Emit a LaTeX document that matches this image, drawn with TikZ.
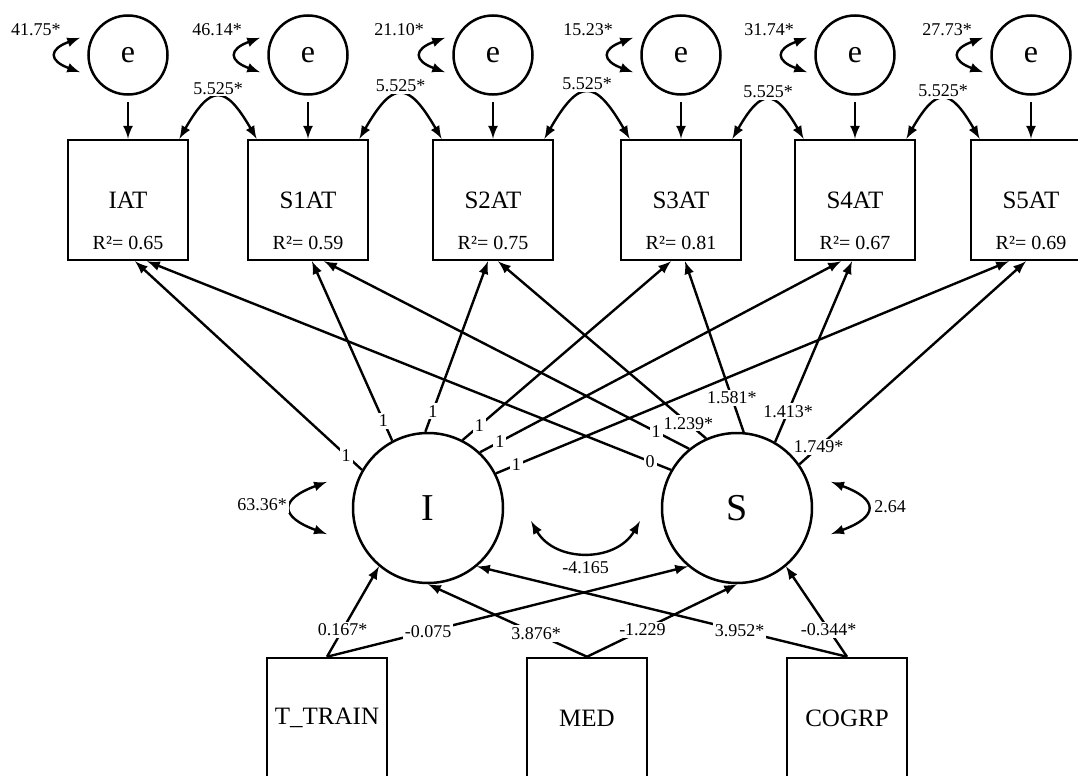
\documentclass[tikz,border=0pt]{standalone}
\usepackage{fontspec}
\setmainfont{Liberation Serif}
\usetikzlibrary{arrows}

\begin{document}
\begin{tikzpicture}[x=0.5pt, y=-0.5pt]
\tikzstyle{err}=[draw, circle, line width=1.25pt, minimum size=39.5pt, inner sep=0pt, font=\fontsize{16}{18}\selectfont]
\tikzstyle{latent}=[draw, circle, line width=1.25pt, minimum size=75pt, inner sep=0pt, font=\fontsize{19}{21}\selectfont]
\tikzstyle{obs}=[draw, rectangle, line width=1.25pt, minimum width=60pt, minimum height=60pt, inner sep=0pt, font=\fontsize{12.5}{14}\selectfont]
\tikzstyle{rsq}=[font=\fontsize{10}{12}\selectfont]
\tikzstyle{coef}=[fill=white, inner sep=1pt, font=\fontsize{9}{10}\selectfont]
\tikzstyle{link}=[draw, -latex, line width=1.2pt]
\tikzstyle{twoway}=[draw, latex-latex, line width=1.2pt]

\useasboundingbox (0,0) rectangle (1078,776);

% error terms
\node[err](e1) at (128,55) {e};
\node[err](e2) at (308,55) {e};
\node[err](e3) at (493,55) {e};
\node[err](e4) at (681,55) {e};
\node[err](e5) at (855,55) {e};
\node[err](e6) at (1031,55) {e};

% repeated measures
\node[obs](iat) at (128,200) {IAT};
\node[obs](s1at) at (308,200) {S1AT};
\node[obs](s2at) at (493,200) {S2AT};
\node[obs](s3at) at (681,200) {S3AT};
\node[obs](s4at) at (855,200) {S4AT};
\node[obs](s5at) at (1031,200) {S5AT};
\node[rsq](iat-r2) at (128,243) {R²= 0.65};
\node[rsq](s1at-r2) at (308,243) {R²= 0.59};
\node[rsq](s2at-r2) at (493,243) {R²= 0.75};
\node[rsq](s3at-r2) at (681,243) {R²= 0.81};
\node[rsq](s4at-r2) at (855,243) {R²= 0.67};
\node[rsq](s5at-r2) at (1031,243) {R²= 0.69};

% growth factors and covariates
\node[latent](i) at (428,508) {I};
\node[latent](s) at (737,508) {S};
\node[obs](ttrain) at (327,718) {T\_TRAIN};
\node[obs](med) at (587,718) {MED};
\node[obs](cogrp) at (847,718) {COGRP};

% residuals
\path (e1) edge[link, shorten <=3pt] (iat);
\path (e2) edge[link, shorten <=3pt] (s1at);
\path (e3) edge[link, shorten <=3pt] (s2at);
\path (e4) edge[link, shorten <=3pt] (s3at);
\path (e5) edge[link, shorten <=3pt] (s4at);
\path (e6) edge[link, shorten <=3pt] (s5at);

\path ([xshift=-5.5pt]e1.155) edge[twoway, out=200, in=160, looseness=2.5] ([xshift=-5.5pt]e1.205);
\path ([xshift=-5.5pt]e2.155) edge[twoway, out=200, in=160, looseness=2.5] ([xshift=-5.5pt]e2.205);
\path ([xshift=-5.5pt]e3.155) edge[twoway, out=200, in=160, looseness=2.5] ([xshift=-5.5pt]e3.205);
\path ([xshift=-5.5pt]e4.155) edge[twoway, out=200, in=160, looseness=2.5] ([xshift=-5.5pt]e4.205);
\path ([xshift=-5.5pt]e5.155) edge[twoway, out=200, in=160, looseness=2.5] ([xshift=-5.5pt]e5.205);
\path ([xshift=-5.5pt]e6.155) edge[twoway, out=200, in=160, looseness=2.5] ([xshift=-5.5pt]e6.205);
\node[coef](v1) at (36,30) {41.75*};
\node[coef](v2) at (217,30) {46.14*};
\node[coef](v3) at (399,30) {21.10*};
\node[coef](v4) at (588,30) {15.23*};
\node[coef](v5) at (769,30) {31.74*};
\node[coef](v6) at (947,30) {27.73*};

\path (iat.50) edge[twoway, out=60, in=120, looseness=2.1] node[coef, above]{5.525*} (s1at.130);
\path (s1at.50) edge[twoway, out=60, in=120, looseness=2.1] node[coef, above]{5.525*} (s2at.130);
\path (s2at.50) edge[twoway, out=60, in=120, looseness=2.1] node[coef, above]{5.525*} (s3at.130);
\path (s3at.50) edge[twoway, out=60, in=120, looseness=2.1] node[coef, above]{5.525*} (s4at.130);
\path (s4at.50) edge[twoway, out=60, in=120, looseness=2.1] node[coef, above]{5.525*} (s5at.130);

% intercept loadings
\path (i.150) edge[link] node[coef, pos=.07]{1} ([xshift=3.5pt]iat.south);
\path (i.118) edge[link] node[coef, pos=.11]{1} ([xshift=2pt]s1at.south);
\path (i.92) edge[link] node[coef, pos=.12]{1} ([xshift=-2.5pt]s2at.south);
\path (i.63) edge[link] node[coef, pos=.08]{1} ([xshift=-5pt]s3at.south);
\path (i.47) edge[link] node[coef, pos=.055]{1} ([xshift=-7pt]s4at.south);
\path (i.27) edge[link] node[coef, pos=.04]{1} ([xshift=-11pt]s5at.south);

% slope loadings
\path (s.150) edge[link] node[coef, pos=.04]{0} ([xshift=9.5pt]iat.south);
\path (s.129) edge[link] node[coef, pos=.09]{1} ([xshift=8pt]s1at.south);
\path (s.114) edge[link] node[coef, pos=.085]{1.239*} ([xshift=2.5pt]s2at.south);
\path (s.85) edge[link] node[coef, pos=.2]{1.581*} ([xshift=2pt]s3at.south);
\path (s.60) edge[link] node[coef, pos=.17]{1.413*} ([xshift=-1.5pt]s4at.south);
\path (s.35) edge[link] node[coef, pos=.085]{1.749*} ([xshift=-2.5pt]s5at.south);

% factor variances and covariance
\path ([xshift=-14.75pt]i.160) edge[twoway, out=200, in=160, looseness=2.5] ([xshift=-14.75pt]i.200);
\path ([xshift=11.25pt]s.20) edge[twoway, out=-20, in=20, looseness=2.5] ([xshift=11.25pt]s.-20);
\node[coef](vi) at (262,505) {63.36*};
\node[coef](vs) at (890,507) {2.64};
\path ([xshift=14pt]i.350) edge[twoway, out=-60, in=240, looseness=1.13] node[coef, below=3pt]{-4.165} ([xshift=-11pt]s.190);

% covariates
\path (ttrain.north) edge[link] node[coef, pos=.3]{0.167*} (i.230);
\path (ttrain.north) edge[link] node[coef, pos=.28]{-0.075} (s.230);
\path (med.north) edge[link] node[coef, pos=.32]{3.876*} (i.south);
\path (med.north) edge[link] node[coef, pos=.37]{-1.229} (s.south);
\path (cogrp.north) edge[link] node[coef, pos=.29]{3.952*} (i.-50);
\path (cogrp.north) edge[link] node[coef, pos=.3]{-0.344*} (s.-50);

\end{tikzpicture}
\end{document}
